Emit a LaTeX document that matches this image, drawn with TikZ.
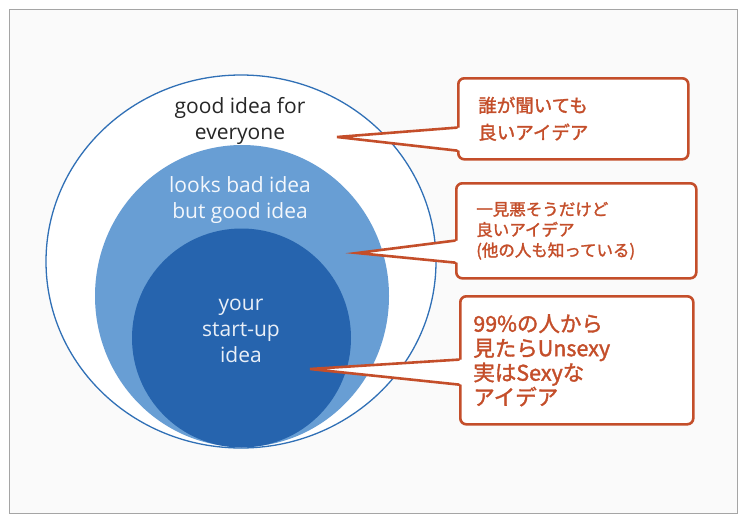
\documentclass[tikz,border=0pt]{standalone}
\usepackage{fontspec}
\setmainfont{Open Sans}
\newfontfamily\jpfont[FakeBold=1.6]{Noto Sans CJK JP}

\definecolor{ringblue}{RGB}{48,112,182}
\definecolor{midblue}{RGB}{104,158,212}
\definecolor{deepblue}{RGB}{38,100,174}
\definecolor{alertred}{RGB}{196,78,42}
\definecolor{framegray}{RGB}{165,165,165}
\definecolor{paper}{RGB}{250,250,250}

\begin{document}
\begin{tikzpicture}[
    x=1pt, y=-1pt,
    ringlabel/.style={align=center, font=\fontsize{21}{26}\selectfont},
    callout/.style={draw=alertred, line width=2.6pt, rounded corners=6pt,
        fill=white, text=alertred, anchor=north west, align=left,
        inner ysep=0pt},
    pointer/.style={draw=alertred, line width=2.6pt, line cap=round}
]
  \useasboundingbox (0,0) rectangle (752,530);
  \fill[white] (0,0) rectangle (752,530);
  \draw[framegray, fill=paper, line width=1pt] (9,9) rectangle (737,513);

  % circles
  \draw[ringblue, fill=white, line width=1.3pt] (241,261.5) ellipse (195pt and 186.5pt);
  \fill[midblue] (242,296) ellipse (147pt and 151pt);
  \fill[deepblue] (241.5,338) circle (109.5pt);

  % labels
  \node[ringlabel, text=black!85] (everyone) at (240,121) {good idea for\\everyone};
  \node[ringlabel, text=white!92!midblue] (looksbad) at (240,200) {looks bad idea\\but good idea};
  \node[ringlabel, text=white!90!deepblue] (startup) at (241,331) {your\\start-up\\idea};

  % tips
  \coordinate (tip1) at (337,137);
  \coordinate (tip2) at (357,253);
  \coordinate (tip3) at (310,369);

  % callouts
  \node[callout, minimum width=230pt, minimum height=81pt, text width=190pt,
        inner xsep=20pt, font=\jpfont\fontsize{18.5}{27}\selectfont]
        (box1) at (457,77) {誰が聞いても\\良いアイデア};
  \node[callout, minimum width=240pt, minimum height=95pt, text width=200pt,
        inner xsep=20pt, font=\jpfont\fontsize{16.5}{20.5}\selectfont]
        (box2) at (455,182) {一見悪そうだけど\\良いアイデア\\(他の人も知っている)};
  \node[callout, minimum width=233pt, minimum height=128pt, text width=207pt,
        inner xsep=13pt, font=\jpfont\fontsize{21.5}{24.5}\selectfont]
        (box3) at (459,295) {99\%の人から\\見たらUnsexy\\実はSexyな\\アイデア};

  % pointers
  \fill[white] ([xshift=3pt, yshift=33pt]box1.south west) -- (tip1)
      -- ([xshift=3pt, yshift=10pt]box1.south west) -- cycle;
  \draw[pointer] ([yshift=33pt]box1.south west) -- (tip1)
      -- ([yshift=10pt]box1.south west);
  \fill[white] ([xshift=3pt, yshift=39pt]box2.south west) -- (tip2)
      -- ([xshift=3pt, yshift=17pt]box2.south west) -- cycle;
  \draw[pointer] ([yshift=39pt]box2.south west) -- (tip2)
      -- ([yshift=17pt]box2.south west);
  \fill[white] ([xshift=3pt, yshift=66pt]box3.south west) -- (tip3)
      -- ([xshift=3pt, yshift=41pt]box3.south west) -- cycle;
  \draw[pointer] ([yshift=66pt]box3.south west) -- (tip3)
      -- ([yshift=41pt]box3.south west);
\end{tikzpicture}
\end{document}
